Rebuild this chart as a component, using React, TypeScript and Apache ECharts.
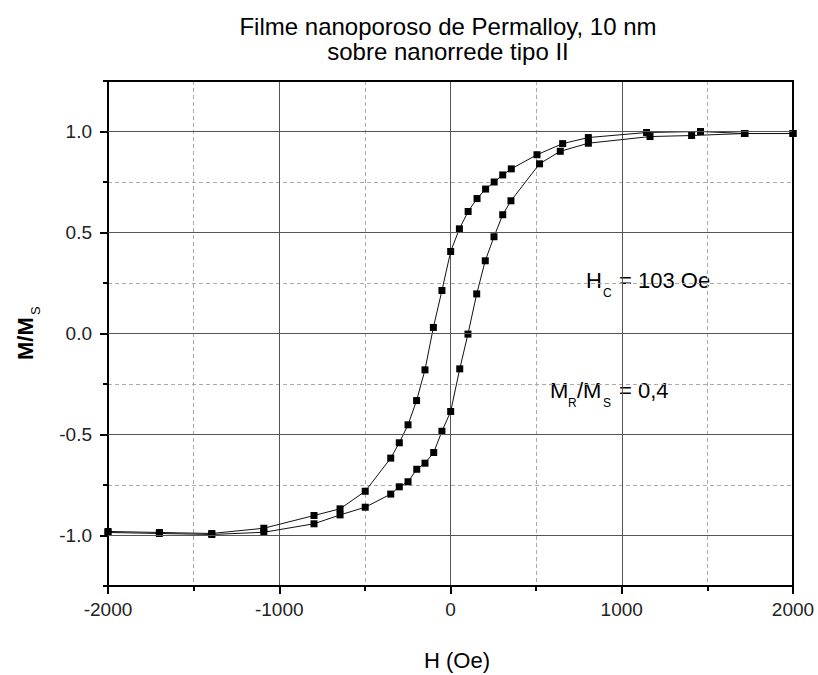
import React, { useEffect, useRef } from "react";
import * as echarts from "echarts";

// Descending branch (field from +2000 down to -2000)
const downH = [2000, 1720, 1460, 1145, 805, 655, 505, 355, 305, 255, 205, 155, 103, 52, 1, -50, -100, -149, -198, -248, -299, -349, -498, -645, -797, -1090, -1394, -1700, -2000];
const downM = [0.99, 0.99, 1.0, 0.995, 0.97, 0.94, 0.885, 0.815, 0.785, 0.75, 0.715, 0.668, 0.604, 0.518, 0.406, 0.213, 0.03, -0.18, -0.332, -0.452, -0.541, -0.617, -0.781, -0.868, -0.901, -0.964, -0.99, -0.985, -0.98];

// Ascending branch (field from -2000 up to +2000)
const upH = [-2000, -1700, -1394, -1090, -797, -645, -498, -349, -299, -248, -197, -149, -98, -50, 1, 54, 102, 153, 203, 254, 305, 353, 520, 641, 805, 1165, 1408, 1716, 2000];
const upM = [-0.985, -0.99, -0.995, -0.984, -0.942, -0.898, -0.86, -0.795, -0.759, -0.734, -0.672, -0.642, -0.589, -0.484, -0.386, -0.175, -0.003, 0.196, 0.36, 0.479, 0.588, 0.657, 0.84, 0.902, 0.942, 0.975, 0.98, 0.99, 0.99];

const yMajorTicks = [-1.0, -0.5, 0.0, 0.5, 1.0];

const titleLines = ["Filme nanoporoso de Permalloy, 10 nm", "sobre nanorrede tipo II"];

const FONT = "'Liberation Sans', Arial, sans-serif";

export default function App() {
  const ref = useRef<HTMLDivElement>(null);
  useEffect(() => {
    if (!ref.current) return;
    const chart = echarts.init(ref.current, null, { renderer: "svg" });
    const down = downH.map((h, i) => [h, downM[i]]);
    const up = upH.map((h, i) => [h, upM[i]]);
    const lineCol = "#111";
    chart.setOption({
      animation: false,
      backgroundColor: "#fff",
      grid: {
        left: 108,
        right: 25,
        top: 81,
        bottom: 89,
        show: true,
        borderColor: "#000",
        borderWidth: 2,
        backgroundColor: "transparent",
      },
      xAxis: {
        type: "value",
        min: -2000,
        max: 2000,
        interval: 1000,
        axisLine: { show: true, onZero: false, lineStyle: { color: "#000", width: 2 } },
        axisTick: { show: true, inside: false, length: 8, lineStyle: { color: "#000", width: 2 } },
        minorTick: { show: true, splitNumber: 2, length: 5, lineStyle: { color: "#000", width: 2 } },
        axisLabel: {
          color: "#222",
          fontSize: 19,
          fontFamily: FONT,
          margin: 14,
          formatter: (v: number) => String(Math.round(v)),
        },
        splitLine: { show: true, showMinLine: false, showMaxLine: false, lineStyle: { color: "#555", width: 1, type: "solid" } },
        minorSplitLine: { show: true, lineStyle: { color: "#aaa", width: 1, type: [4, 3] } },
      },
      yAxis: [
        {
          type: "value",
          min: -1.25,
          max: 1.25,
          interval: 0.25,
          axisLine: { show: true, onZero: false, lineStyle: { color: "#000", width: 2 } },
          axisTick: { show: true, length: 5, lineStyle: { color: "#000", width: 2 } },
          axisLabel: {
            color: "#222",
            fontSize: 19,
            fontFamily: FONT,
            margin: 16,
            formatter: (v: number) => {
              const r = Math.round(v * 100) / 100;
              return yMajorTicks.some((t) => Math.abs(t - r) < 1e-6) ? r.toFixed(1) : "";
            },
          },
          splitLine: { show: true, showMinLine: false, showMaxLine: false, lineStyle: { color: "#aaa", width: 1, type: [4, 3] } },
        },
        {
          type: "value",
          position: "left",
          min: -1.25,
          max: 1.25,
          interval: 0.25,
          axisLine: { show: false, onZero: false },
          axisTick: { show: true, length: 8, customValues: yMajorTicks, lineStyle: { color: "#000", width: 2 } },
          axisLabel: { show: false },
          splitLine: { show: false },
        },
      ],
      graphic: [
        {
          type: "line",
          shape: { x1: 107, y1: 81, x2: 794, y2: 81 },
          style: { stroke: "#000", lineWidth: 2 },
          silent: true,
          z: 100,
        },
        {
          type: "line",
          shape: { x1: 793, y1: 80, x2: 793, y2: 587 },
          style: { stroke: "#000", lineWidth: 2 },
          silent: true,
          z: 100,
        },
        {
          type: "text",
          x: 448,
          y: 14,
          style: {
            text: titleLines.join("\n"),
            font: `24px ${FONT}`,
            fill: "#000",
            textAlign: "center",
            lineHeight: 25,
          },
        },
        {
          type: "text",
          x: 457,
          y: 660,
          style: { text: "H (Oe)", font: `22px ${FONT}`, fill: "#000", textAlign: "center", textVerticalAlign: "middle" },
        },
        {
          type: "text",
          x: 25,
          y: 360,
          rotation: Math.PI / 2,
          style: { text: "M/M", font: `bold 22px ${FONT}`, fill: "#000", textAlign: "left", textVerticalAlign: "middle" },
        },
        {
          type: "text",
          x: 35,
          y: 315,
          rotation: Math.PI / 2,
          style: { text: "S", font: `13px ${FONT}`, fill: "#000", textAlign: "left", textVerticalAlign: "middle" },
        },
        {
          type: "text",
          x: 586,
          y: 280,
          style: { text: "H", font: `22px ${FONT}`, fill: "#000", textVerticalAlign: "middle" },
        },
        {
          type: "text",
          x: 603,
          y: 293,
          style: { text: "C", font: `12px ${FONT}`, fill: "#000", textVerticalAlign: "middle" },
        },
        {
          type: "text",
          x: 619,
          y: 280,
          style: { text: "= 103 Oe", font: `22px ${FONT}`, fill: "#000", textVerticalAlign: "middle" },
        },
        {
          type: "text",
          x: 550,
          y: 390,
          style: { text: "M", font: `22px ${FONT}`, fill: "#000", textVerticalAlign: "middle" },
        },
        {
          type: "text",
          x: 568,
          y: 403,
          style: { text: "R", font: `12px ${FONT}`, fill: "#000", textVerticalAlign: "middle" },
        },
        {
          type: "text",
          x: 577,
          y: 390,
          style: { text: "/M", font: `22px ${FONT}`, fill: "#000", textVerticalAlign: "middle" },
        },
        {
          type: "text",
          x: 603,
          y: 403,
          style: { text: "S", font: `12px ${FONT}`, fill: "#000", textVerticalAlign: "middle" },
        },
        {
          type: "text",
          x: 619,
          y: 390,
          style: { text: "= 0,4", font: `22px ${FONT}`, fill: "#000", textVerticalAlign: "middle" },
        },
      ],
      series: [
        {
          type: "line",
          data: [],
          silent: true,
          z: 1,
          markLine: {
            silent: true,
            symbol: "none",
            label: { show: false },
            lineStyle: { color: "#555", width: 1, type: "solid" },
            data: yMajorTicks.map((v) => ({ yAxis: v })),
          },
        },
        {
          name: "down",
          type: "line",
          data: down,
          z: 3,
          symbol: "rect",
          symbolSize: 7,
          itemStyle: { color: "#000" },
          lineStyle: { color: lineCol, width: 1 },
        },
        {
          name: "up",
          type: "line",
          data: up,
          z: 3,
          symbol: "rect",
          symbolSize: 7,
          itemStyle: { color: "#000" },
          lineStyle: { color: lineCol, width: 1 },
        },
      ],
    });
    return () => chart.dispose();
  }, []);
  return (
    <div
      ref={ref}
      style={{ position: "fixed", left: 0, top: 0, width: 818, height: 675, background: "#fff" }}
    />
  );
}
